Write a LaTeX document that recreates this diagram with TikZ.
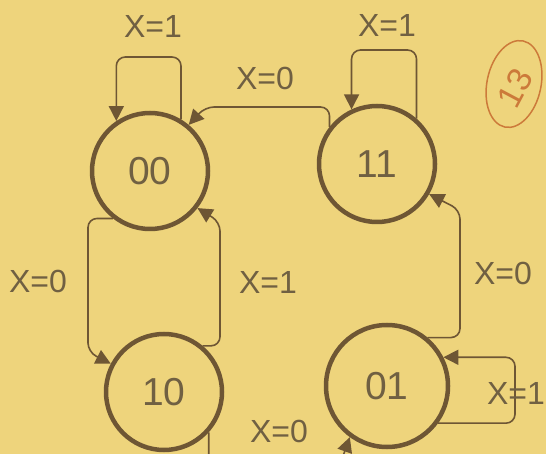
\documentclass[tikz,border=0pt]{standalone}
\usepackage{fontspec}
\setmainfont{Liberation Sans}
\usetikzlibrary{arrows.meta}
\definecolor{paper}{RGB}{238,212,124}
\definecolor{ink}{RGB}{110,86,52}
\definecolor{txt}{RGB}{112,96,66}
\definecolor{pen}{RGB}{204,122,58}
\tikzset{
  state/.style={circle, draw=ink, line width=4.5pt, minimum size=116pt, inner sep=0pt,
     text=txt, font=\fontsize{39}{44}\selectfont},
  edge/.style={draw=ink, line width=1.6pt, rounded corners=9pt,
     -{Triangle[length=15pt,width=15pt]}},
  lab/.style={text=txt, font=\fontsize{32}{36}\selectfont, inner sep=0pt},
}
\begin{document}
\begin{tikzpicture}[x=1pt,y=-1pt]
\fill[paper] (0,0) rectangle (546,454);
\clip (0,0) rectangle (546,454);
\useasboundingbox (0,0) rectangle (546,454);

\node[state] (n00) at (150,171) {00};
\node[state] (n11) at (377,164) {11};
\node[state] (n10) at (164,392) {10};
\node[state, minimum size=122pt] (n01) at (387,386) {01};

% self loops
\draw[edge] (n00.59) |- (150,57) -| (n00.124);
\draw[edge] (n11.49) |- (380,50) -| (n11.115);
\draw[edge] (n01.-36) -| (515,390) |- (n01.27);

% transitions
\draw[edge] (n11.142) |- (205,107) -- (n00.50);
\draw[edge] (n00.232) -| (88,352) -- (n10.152);
\draw[edge] (n10.50) -| (220,222) -- (n00.-38);
\draw[edge] (n01.50) -| (460,210) -- (n11.-30);
\draw[edge, rounded corners=14pt] (n10.-42) |- (338,470) -- (n01.234);

% labels
\node[lab] (l1) at (153,26) {X=1};
\node[lab] (l2) at (387,25) {X=1};
\node[lab] (l3) at (265,78) {X=0};
\node[lab] (l4) at (38,281) {X=0};
\node[lab] (l5) at (268,282) {X=1};
\node[lab] (l6) at (503,273) {X=0};
\node[lab] (l7) at (516,393) {X=1};
\node[lab] (l8) at (279,431) {X=0};

% handwritten annotation
\draw[pen, line width=1.5pt, rotate around={-12:(514,84)}] (514,84) ellipse [x radius=27, y radius=44];
\node[text=pen, rotate=62, inner sep=0pt, font=\fontsize{34}{38}\selectfont] (note) at (515,88) {13};
\end{tikzpicture}
\end{document}
